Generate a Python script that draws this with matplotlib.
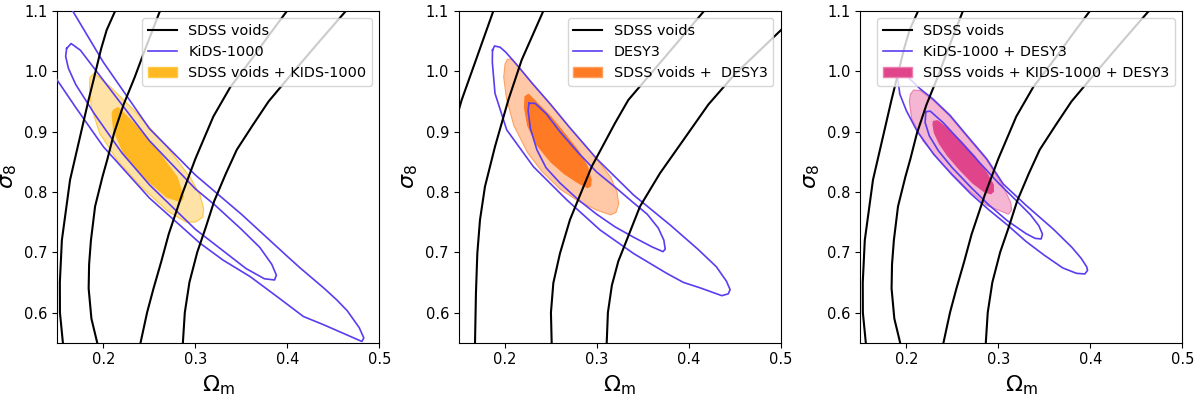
import matplotlib.pyplot as plt
from matplotlib.lines import Line2D
from matplotlib.patches import Patch

# ---- SDSS voids contours (same in panels 1 and 3), open curves crossing the frame
voids_a_x = [0.157, 0.156, 0.1528, 0.1527, 0.1549, 0.1638, 0.1764, 0.1839, 0.1893, 0.1975, 0.2036, 0.2128, 0.220]
voids_a_y = [0.53, 0.55, 0.60, 0.65, 0.72, 0.82, 0.903, 0.9525, 0.9856, 1.037, 1.0685, 1.10, 1.13]
voids_b_x = [0.197, 0.1933, 0.187, 0.184, 0.1845, 0.1865, 0.191, 0.199, 0.2045, 0.2115, 0.222, 0.234, 0.245, 0.2615, 0.270]
voids_b_y = [0.53, 0.55, 0.59, 0.64, 0.68, 0.72, 0.776, 0.825, 0.855, 0.897, 0.945, 0.99, 1.035, 1.10, 1.13]
voids_c_x = [0.237, 0.2404, 0.2475, 0.2545, 0.263, 0.271, 0.2853, 0.300, 0.3195, 0.338, 0.362, 0.380, 0.3995, 0.410]
voids_c_y = [0.53, 0.55, 0.60, 0.64, 0.685, 0.73, 0.795, 0.855, 0.925, 0.974, 1.022, 1.06, 1.10, 1.12]
voids_d_x = [0.2858, 0.2864, 0.2885, 0.2935, 0.302, 0.311, 0.3205, 0.333, 0.345, 0.362, 0.3795, 0.407, 0.435, 0.4635, 0.475]
voids_d_y = [0.53, 0.55, 0.60, 0.65, 0.70, 0.74, 0.785, 0.83, 0.87, 0.91, 0.95, 1.0, 1.05, 1.10, 1.12]

# ---- SDSS voids contours as drawn in panel 2
voids2_a_x = [0.140, 0.150, 0.1533, 0.1644, 0.1877, 0.195]
voids2_a_y = [0.90, 0.935, 0.9525, 1.0, 1.10, 1.13]
voids2_b_x = [0.168, 0.1678, 0.1688, 0.1703, 0.1732, 0.1786, 0.1895, 0.204, 0.2185, 0.242, 0.250]
voids2_b_y = [0.53, 0.55, 0.632, 0.698, 0.7536, 0.8088, 0.8751, 0.9525, 1.0188, 1.10, 1.13]
voids2_c_x = [0.252, 0.2511, 0.2503, 0.2529, 0.2601, 0.271, 0.2946, 0.3199, 0.3344, 0.3761, 0.4167, 0.430]
voids2_c_y = [0.53, 0.55, 0.60, 0.649, 0.698, 0.754, 0.842, 0.914, 0.9525, 1.027, 1.10, 1.12]
voids2_d_x = [0.310, 0.3109, 0.3122, 0.3165, 0.3235, 0.3326, 0.3471, 0.3688, 0.3942, 0.4214, 0.450, 0.4775, 0.5004, 0.510]
voids2_d_y = [0.53, 0.55, 0.60, 0.645, 0.685, 0.720, 0.776, 0.831, 0.886, 0.945, 0.995, 1.035, 1.0685, 1.085]

# ---- KiDS-1000 (panel 1)
kids_out_x = [0.155, 0.1667, 0.20, 0.25, 0.30, 0.35, 0.40, 0.4138, 0.44, 0.4536, 0.465, 0.478, 0.483,
              0.481, 0.475, 0.46, 0.439, 0.4174, 0.39, 0.3594, 0.33, 0.305, 0.25, 0.20, 0.17, 0.15, 0.14, 0.12, 0.155]
kids_out_y = [1.145, 1.10, 1.015, 0.905, 0.828, 0.763, 0.693, 0.674, 0.640, 0.621, 0.603, 0.575, 0.558,
              0.552, 0.556, 0.566, 0.580, 0.5934, 0.625, 0.6597, 0.687, 0.715, 0.790, 0.875, 0.940, 0.985, 1.01, 1.20, 1.145]
kids_in_x = [0.1601, 0.165, 0.175, 0.20, 0.25, 0.30, 0.3214, 0.35, 0.37, 0.383, 0.388,
             0.386, 0.375, 0.355, 0.30, 0.25, 0.22, 0.19, 0.17, 0.162, 0.159, 0.1601]
kids_in_y = [1.038, 1.046, 1.035, 0.985, 0.885, 0.805, 0.778, 0.738, 0.708, 0.680, 0.662,
             0.654, 0.656, 0.673, 0.738, 0.812, 0.865, 0.930, 0.978, 1.005, 1.025, 1.038]

# ---- SDSS voids + KiDS-1000 (panel 1)
kv_95_x = [0.1855, 0.19, 0.207, 0.233, 0.269, 0.294, 0.305, 0.309, 0.308,
           0.30, 0.29, 0.27, 0.24, 0.215, 0.196, 0.187, 0.185]
kv_95_y = [0.990, 0.997, 0.975, 0.936, 0.875, 0.825, 0.795, 0.772, 0.758,
           0.750, 0.750, 0.768, 0.810, 0.853, 0.897, 0.940, 0.975]
kv_68_x = [0.211, 0.216, 0.233, 0.258, 0.280, 0.287, 0.284, 0.269, 0.2435, 0.222, 0.211, 0.2095]
kv_68_y = [0.936, 0.940, 0.914, 0.870, 0.825, 0.792, 0.784, 0.791, 0.825, 0.864, 0.903, 0.930]

# ---- DESY3 (panel 2)
des_out_x = [0.1868, 0.189, 0.195, 0.201, 0.212, 0.23, 0.25, 0.27, 0.30, 0.34, 0.38, 0.41, 0.43, 0.441, 0.445,
             0.443, 0.436, 0.4123, 0.3942, 0.3761, 0.34, 0.3036, 0.2674, 0.2312, 0.2022, 0.1895, 0.1866, 0.1868]
des_out_y = [1.035, 1.042, 1.040, 1.032, 1.013, 0.980, 0.945, 0.908, 0.855, 0.795, 0.745, 0.705, 0.676, 0.652, 0.638,
             0.631, 0.628, 0.641, 0.650, 0.665, 0.698, 0.737, 0.787, 0.842, 0.903, 0.9635, 1.015, 1.035]
des_in_x = [0.2264, 0.233, 0.245, 0.26, 0.28, 0.30, 0.32, 0.34, 0.355, 0.367, 0.373, 0.3745,
            0.372, 0.36, 0.34, 0.32, 0.30, 0.28, 0.26, 0.245, 0.235, 0.228, 0.2255, 0.2264]
des_in_y = [0.947, 0.947, 0.930, 0.900, 0.865, 0.833, 0.808, 0.782, 0.763, 0.740, 0.720, 0.705,
            0.701, 0.709, 0.725, 0.742, 0.763, 0.787, 0.815, 0.840, 0.870, 0.905, 0.935, 0.947]

# ---- SDSS voids + DESY3 (panel 2)
dv_95_x = [0.2004, 0.203, 0.208, 0.214, 0.23, 0.25, 0.27, 0.30, 0.315, 0.322, 0.324, 0.321,
           0.315, 0.30, 0.28, 0.26, 0.24, 0.225, 0.21, 0.202, 0.199]
dv_95_y = [1.012, 1.020, 1.020, 1.010, 0.980, 0.945, 0.908, 0.855, 0.825, 0.800, 0.780, 0.766,
           0.762, 0.770, 0.785, 0.805, 0.835, 0.865, 0.910, 0.955, 0.990]
dv_68_x = [0.2221, 0.226, 0.235, 0.25, 0.265, 0.28, 0.29, 0.294, 0.2935,
           0.29, 0.28, 0.265, 0.25, 0.235, 0.225, 0.2215]
dv_68_y = [0.958, 0.962, 0.948, 0.925, 0.897, 0.868, 0.842, 0.820, 0.810,
           0.807, 0.815, 0.830, 0.850, 0.878, 0.910, 0.940]

# ---- KiDS-1000 + DESY3 (panel 3)
kd_out_x = [0.1905, 0.193, 0.200, 0.215, 0.229, 0.2475, 0.2656, 0.2873, 0.3054, 0.33, 0.36, 0.38, 0.39, 0.396, 0.397,
            0.394, 0.385, 0.37, 0.35, 0.33, 0.31, 0.29, 0.27, 0.25, 0.23, 0.212, 0.20, 0.193, 0.1905]
kd_out_y = [0.990, 1.000, 0.993, 0.971, 0.954, 0.927, 0.894, 0.855, 0.813, 0.778, 0.738, 0.708, 0.690, 0.676, 0.670,
            0.664, 0.665, 0.674, 0.695, 0.718, 0.745, 0.770, 0.797, 0.828, 0.862, 0.900, 0.935, 0.962, 0.990]
kd_in_x = [0.2212, 0.226, 0.24, 0.26, 0.28, 0.30, 0.32, 0.335, 0.344, 0.348,
           0.3465, 0.34, 0.33, 0.31, 0.29, 0.27, 0.25, 0.235, 0.225, 0.2205, 0.2212]
kd_in_y = [0.933, 0.934, 0.915, 0.882, 0.848, 0.815, 0.785, 0.762, 0.744, 0.730,
           0.722, 0.723, 0.731, 0.752, 0.778, 0.808, 0.840, 0.868, 0.893, 0.915, 0.933]

# ---- SDSS voids + KiDS-1000 + DESY3 (panel 3)
kdv_95_x = [0.2045, 0.208, 0.215, 0.229, 0.2475, 0.2656, 0.2873, 0.3054, 0.3135, 0.3145,
            0.311, 0.2873, 0.2656, 0.2402, 0.2185, 0.2058, 0.2033]
kdv_95_y = [0.962, 0.969, 0.968, 0.952, 0.925, 0.892, 0.853, 0.809, 0.782, 0.770,
            0.763, 0.778, 0.806, 0.845, 0.884, 0.922, 0.950]
kdv_68_x = [0.2295, 0.234, 0.245, 0.26, 0.275, 0.288, 0.2945, 0.2948,
            0.292, 0.285, 0.272, 0.258, 0.245, 0.236, 0.2305, 0.229]
kdv_68_y = [0.917, 0.918, 0.905, 0.883, 0.858, 0.830, 0.812, 0.801,
            0.797, 0.800, 0.815, 0.837, 0.860, 0.880, 0.898, 0.912]

xticks = [0.2, 0.3, 0.4, 0.5]
yticks = [0.6, 0.7, 0.8, 0.9, 1.0, 1.1]

BLUE = '#5b3cf0'

panels = [
    dict(left=0.0478,
         voids=[(voids_a_x, voids_a_y), (voids_b_x, voids_b_y), (voids_c_x, voids_c_y), (voids_d_x, voids_d_y)],
         lens=[(kids_out_x, kids_out_y), (kids_in_x, kids_in_y)],
         comb95=(kv_95_x, kv_95_y), comb68=(kv_68_x, kv_68_y),
         light='#ffe2a6', dark='#ffb822', edge='#ffc845',
         labels=['SDSS voids', 'KiDS-1000', 'SDSS voids + KIDS-1000']),
    dict(left=0.3822,
         voids=[(voids2_a_x, voids2_a_y), (voids2_b_x, voids2_b_y), (voids2_c_x, voids2_c_y), (voids2_d_x, voids2_d_y)],
         lens=[(des_out_x, des_out_y), (des_in_x, des_in_y)],
         comb95=(dv_95_x, dv_95_y), comb68=(dv_68_x, dv_68_y),
         light='#ffc9a8', dark='#ff7a24', edge='#ffa060',
         labels=['SDSS voids', 'DESY3', 'SDSS voids +  DESY3']),
    dict(left=0.7169,
         voids=[(voids_a_x, voids_a_y), (voids_b_x, voids_b_y), (voids_c_x, voids_c_y), (voids_d_x, voids_d_y)],
         lens=[(kd_out_x, kd_out_y), (kd_in_x, kd_in_y)],
         comb95=(kdv_95_x, kdv_95_y), comb68=(kdv_68_x, kdv_68_y),
         light='#f4b6d2', dark='#e0448a', edge='#ec7fb0',
         labels=['SDSS voids', 'KiDS-1000 + DESY3', 'SDSS voids + KIDS-1000 + DESY3']),
]

fig = plt.figure(figsize=(12, 3.96), dpi=100)

for p in panels:
    ax = fig.add_axes([p['left'], 0.1346, 0.2684, 0.8376])
    ax.fill(*p['comb95'], facecolor=p['light'], edgecolor=p['edge'], lw=0.8, zorder=1)
    ax.fill(*p['comb68'], facecolor=p['dark'], edgecolor=p['dark'], lw=0.8, zorder=2)
    for cx, cy in p['lens']:
        ax.plot(cx, cy, color=BLUE, lw=1.2, zorder=3)
    for vx, vy in p['voids']:
        ax.plot(vx, vy, color='black', lw=1.5, zorder=4)

    ax.set_xlim(0.15, 0.5)
    ax.set_ylim(0.55, 1.1)
    ax.set_xticks(xticks)
    ax.set_xticklabels([str(t) for t in xticks])
    ax.set_yticks(yticks)
    ax.set_yticklabels([str(t) for t in yticks])
    ax.tick_params(labelsize=10.5)
    ax.set_xlabel(r'$\Omega_{\rm m}$', fontsize=16)
    ax.set_ylabel(r'$\sigma_8$', fontsize=16)

    handles = [Line2D([], [], color='black', lw=1.5),
               Line2D([], [], color=BLUE, lw=1.2),
               Patch(facecolor=p['dark'], edgecolor=p['edge'])]
    ax.legend(handles, p['labels'], loc='upper right', fontsize=10.4)

fig.savefig('out.png', dpi=100)
